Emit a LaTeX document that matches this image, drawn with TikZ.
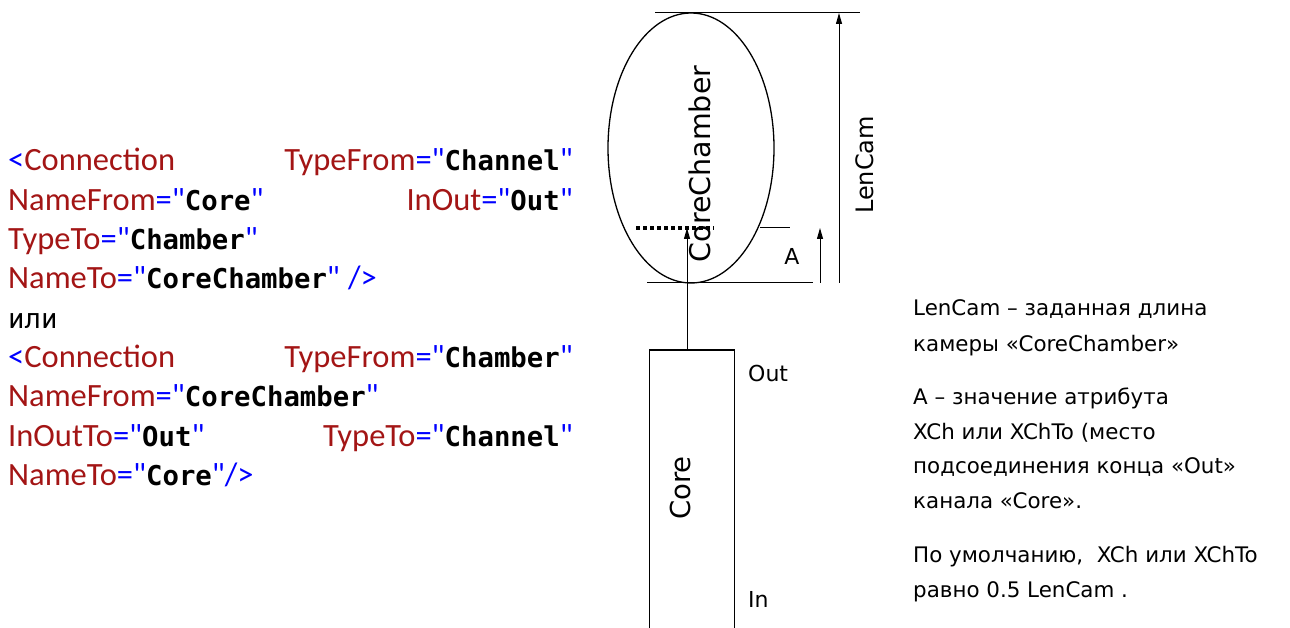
\documentclass[tikz,border=0pt]{standalone}
\usepackage{fontspec}
\setmainfont{DejaVu Sans}
\newfontfamily\xcal{Carlito}
\newfontfamily\xmono{DejaVu Sans Mono}
\usetikzlibrary{arrows.meta,shapes.geometric}
\definecolor{xblue}{RGB}{0,0,255}
\definecolor{xred}{RGB}{163,21,21}
\newcommand\xb[1]{{\color{xblue}#1}}
\newcommand\xa[1]{{\color{xred}#1}}
\newcommand\xv[1]{{\color{xblue}="}{\xmono\bfseries\fontsize{27.3}{27.3}\selectfont #1}{\color{xblue}"}}
\tikzset{
  xml/.style={inner sep=0pt, font=\xcal\fontsize{32.5}{32.5}\selectfont},
  xl/.style={xml, anchor=base west},
  xr/.style={xml, anchor=base east},
  note/.style={inner sep=0pt, anchor=base west, font=\fontsize{21.4}{21.4}\selectfont},
  lbl/.style={inner sep=0pt, font=\fontsize{22}{22}\selectfont},
  thin line/.style={line width=1pt, black},
  arr/.style={line width=1pt, -{Triangle[length=11pt,width=6pt]}},
}
\begin{document}
\begin{tikzpicture}[x=1pt,y=-1pt]
\useasboundingbox (0,0) rectangle (1290,628);
% ---- XML text ----
\node[xl] (l1a) at (8,171) {\xb{<}\xa{Connection}};
\node[xr] (l1b) at (573,171) {\xa{TypeFrom}\xv{Channel}};
\node[xl] (l2a) at (8,211) {\xa{NameFrom}\xv{Core}};
\node[xr] (l2b) at (573,211) {\xa{InOut}\xv{Out}};
\node[xl] (l3) at (8,250) {\xa{TypeTo}\xv{Chamber}};
\node[xl] (l4) at (8,289) {\xa{NameTo}\xv{CoreChamber}\hspace{8pt}\xb{/>}};
\node[xl] (l5) at (8,328) {\xmono\fontsize{27.3}{27.3}\selectfont или};
\node[xl] (l6a) at (8,367) {\xb{<}\xa{Connection}};
\node[xr] (l6b) at (573,367) {\xa{TypeFrom}\xv{Chamber}};
\node[xl] (l7) at (8,406) {\xa{NameFrom}\xv{CoreChamber}};
\node[xl] (l8a) at (8,446) {\xa{InOutTo}\xv{Out}};
\node[xr] (l8b) at (573,446) {\xa{TypeTo}\xv{Channel}};
\node[xl] (l9) at (8,485) {\xa{NameTo}\xv{Core}\xb{/>}};
% ---- diagram ----
\node[draw, ellipse, line width=1.3pt, inner sep=0pt, minimum width=166pt, minimum height=270pt] (chamber) at (691,148) {};
\node[lbl, rotate=90, font=\fontsize{28.5}{28.5}\selectfont] (chlbl) at (700,164) {CoreChamber};
\node[draw, line width=1.3pt, inner sep=0pt, minimum width=85pt, minimum height=280pt] (core) at (692,490) {};
\node[lbl, rotate=90, font=\fontsize{27.5}{27.5}\selectfont] (corelbl) at (680,488) {Core};
\node[lbl, anchor=base west] (out) at (748,381) {Out};
\node[lbl, anchor=base west] (in) at (748,607) {In};
\node[lbl, anchor=base] (alb) at (792,265) {A};
\node[lbl, rotate=90, anchor=base, font=\fontsize{24}{24}\selectfont] (lenlbl) at (873,165) {LenCam};
% reference lines
\coordinate (topL) at (655,13);
\coordinate (topR) at (860,13);
\coordinate (botL) at (647,283);
\coordinate (botR) at (813,283);
\coordinate (midL) at (760,228);
\coordinate (midR) at (790,228);
\draw[thin line] (topL) -- (topR);
\draw[thin line] (botL) -- (botR);
\draw[thin line] (midL) -- (midR);
% dimension arrows
\coordinate (lenB) at (839,283);
\coordinate (lenT) at (839,13);
\coordinate (aB) at (820,283);
\coordinate (aT) at (820,228);
\draw[arr] (lenB) -- (lenT);
\draw[arr] (aB) -- (aT);
% attachment
\coordinate (dotL) at (636,228);
\coordinate (dotR) at (714,228);
\draw[line width=3.5pt, dash pattern=on 4pt off 3pt] (dotL) -- (dotR);
\coordinate (outpt) at (687,350);
\coordinate (attach) at (687,228);
\draw[arr] (outpt) -- (attach);
% ---- notes ----
\node[note] (n1) at (913,316) {LenCam – заданная длина};
\node[note] (n2) at (913,351) {камеры «CoreChamber»};
\node[note] (n3) at (913,404) {A – значение атрибута};
\node[note] (n4) at (913,439) {XCh или XChTo (место};
\node[note] (n5) at (913,473) {подсоединения конца «Out»};
\node[note] (n6) at (913,508) {канала «Core».};
\node[note] (n7) at (913,562) {По умолчанию,\ \ XCh или XChTo};
\node[note] (n8) at (913,597) {равно 0.5 LenCam .};
\end{tikzpicture}
\end{document}
